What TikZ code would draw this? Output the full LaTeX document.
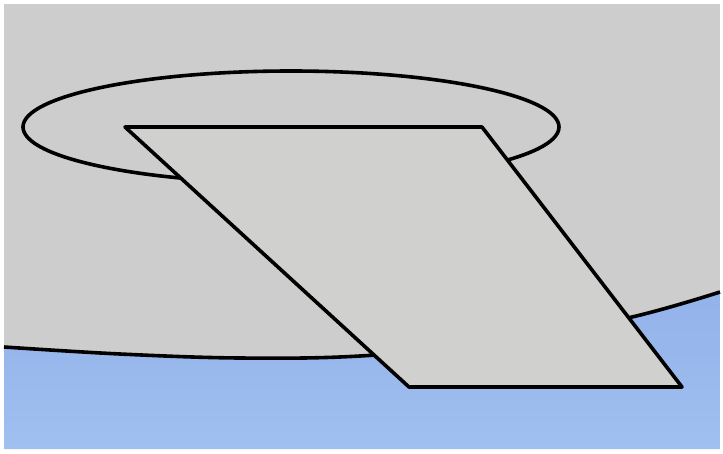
\documentclass[tikz,border=0pt]{standalone}
\definecolor{bggray}{RGB}{205,205,205}
\definecolor{platefill}{RGB}{208,208,206}
\definecolor{bluetop}{RGB}{146,178,234}
\definecolor{bluebot}{RGB}{160,192,240}
\tikzset{
  outline/.style={draw=black, line width=3.6pt, line join=round},
}
\begin{document}
\begin{tikzpicture}[x=1pt,y=-1pt]
  \useasboundingbox (0,0) rectangle (723,453);
  \fill[white] (0,0) rectangle (723,453);
  \fill[bggray] (4,4) rectangle (720,449);
  % lower blue region under the big curve
  \shade[top color=bluetop, bottom color=bluebot]
    plot[smooth, tension=0.6] coordinates {(4,347) (120,354) (240,358) (360,356) (500,343) (632,317) (720,292)}
    -- (720,449) -- (4,449) -- cycle;
  \draw[black, line width=3.6pt]
    plot[smooth, tension=0.6] coordinates {(4,347) (120,354) (240,358) (360,356) (500,343) (632,317) (720,292)};
  % small ellipse
  \draw[outline] (291,127) ellipse [x radius=268, y radius=56];
  % parallelogram
  \coordinate (tl) at (125,127);
  \coordinate (tr) at (482,127);
  \coordinate (br) at (682,387);
  \coordinate (bl) at (409,387);
  \filldraw[outline, fill=platefill] (tl) -- (tr) -- (br) -- (bl) -- cycle;
\end{tikzpicture}
\end{document}
